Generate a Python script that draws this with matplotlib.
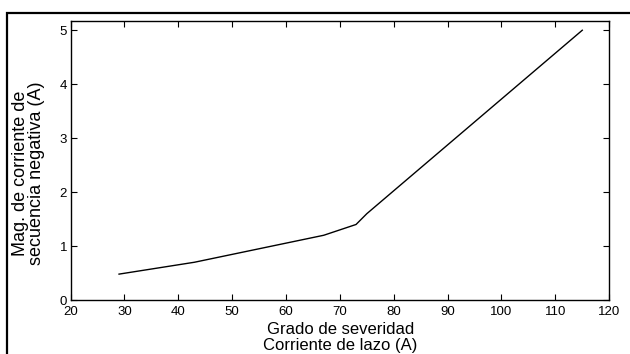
import matplotlib.pyplot as plt
from matplotlib.patches import Rectangle

plt.rcParams['font.family'] = ['Liberation Sans', 'DejaVu Sans']

# datos
corriente_lazo = [29, 43, 67, 73, 75, 115]
mag_secuencia_neg = [0.48, 0.70, 1.20, 1.40, 1.60, 5.00]

xticks = [20, 30, 40, 50, 60, 70, 80, 90, 100, 110, 120]
yticks = [0, 1, 2, 3, 4, 5]

fig = plt.figure(figsize=(6.3, 3.54), dpi=100)
ax = fig.add_axes([0.112, 0.1525, 0.855, 0.788])

ax.plot(corriente_lazo, mag_secuencia_neg, color='black', linewidth=1.0)

ax.set_xlim(20, 120)
ax.set_ylim(0, 5.17)
ax.set_xticks(xticks)
ax.set_yticks(yticks)
ax.tick_params(direction='in', length=4, width=0.8, top=True, right=True,
               labelsize=9.5)
ax.tick_params(axis='x', pad=4)
ax.tick_params(axis='y', pad=2.5)
for s in ax.spines.values():
    s.set_linewidth(1.0)

fig.text(0.540, 0.046, 'Grado de severidad\nCorriente de lazo (A)', fontsize=12,
         linespacing=1.05, ha='center', va='center')
fig.text(28.5 / 630, 0.511, 'Mag. de corriente de\nsecuencia negativa (A)',
         fontsize=13, linespacing=0.9, ha='center', va='center', rotation=90)

# marco exterior
fig.patches.append(Rectangle((7 / 630, -0.2), 1.2, 1.2 - 12.5 / 354,
                             transform=fig.transFigure, fill=False,
                             edgecolor='black', linewidth=1.6))

fig.savefig('out.png', dpi=100)
